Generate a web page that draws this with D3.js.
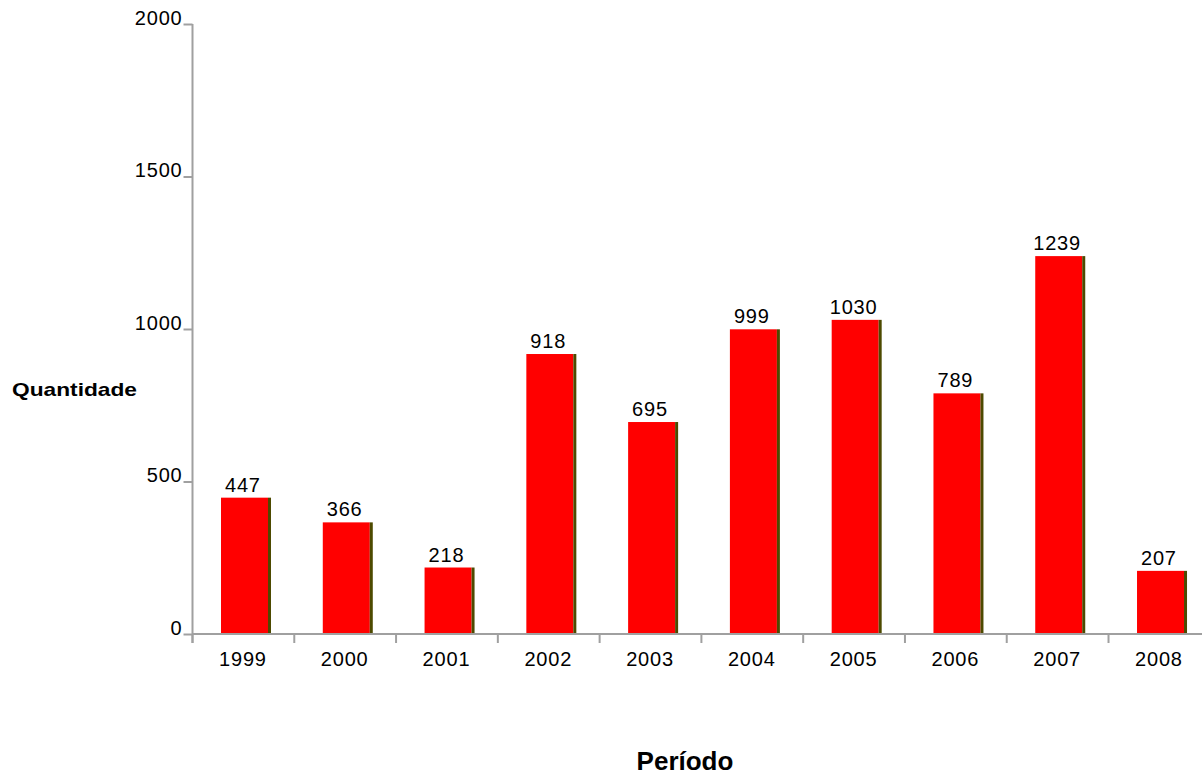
<!DOCTYPE html>
<html>
<head>
<meta charset="utf-8">
<script src="https://cdn.jsdelivr.net/npm/d3@7/dist/d3.min.js"></script>
<style>
  html, body { margin: 0; padding: 0; background: #fff; }
  svg { display: block; }
  text { font-family: "Liberation Sans", Arial, sans-serif; fill: #000; }
</style>
</head>
<body>
<svg id="chart" width="1202" height="778"></svg>
<script>
const years = ["1999","2000","2001","2002","2003","2004","2005","2006","2007","2008"];
const values = [447, 366, 218, 918, 695, 999, 1030, 789, 1239, 207];
const yTicks = [0, 500, 1000, 1500, 2000];
const yLabel = "Quantidade";
const xLabel = "Período";

const svg = d3.select("#chart");
const bandW = 101.78;
const x = d3.scaleBand().domain(years).range([192, 192 + bandW * years.length]).padding(0);
const y = d3.scaleLinear().domain([0, 2000]).range([634, 24]);

const axisColor = "#a0a0a0";

// bars
const barOffset = 29, barW = 50, shadeW = 3;
const g = svg.append("g");
years.forEach((yr, i) => {
  const x0 = x(yr) + barOffset;
  const top = y(values[i]);
  const h = y(0) - top;
  g.append("rect").attr("x", x0).attr("y", top).attr("width", barW - shadeW).attr("height", h).attr("fill", "#ff0000");
  g.append("rect").attr("x", x0 + barW - shadeW).attr("y", top).attr("width", shadeW).attr("height", h).attr("fill", "#4d4a00");
  g.append("text").attr("x", x(yr) + x.bandwidth() / 2).attr("y", top - 6)
    .attr("text-anchor", "middle").attr("font-size", 20).attr("letter-spacing", 0.8)
    .text(values[i]);
});

// y axis
const yAxis = d3.axisLeft(y).tickValues(yTicks).tickSize(9).tickPadding(0).tickFormat(d3.format("d"));
const ya = svg.append("g").attr("transform", "translate(192.5,0)").call(yAxis);
ya.select(".domain").attr("stroke", axisColor).attr("stroke-width", 2).attr("d", "M0,24V643");
ya.selectAll(".tick line").attr("stroke", axisColor).attr("stroke-width", 2);
ya.selectAll(".tick text").attr("font-size", 20).attr("letter-spacing", 0.8)
  .attr("font-family", "Liberation Sans, Arial, sans-serif").attr("fill", "#000")
  .attr("dy", "0").attr("y", 0).attr("x", -10);

// x axis
const xAxis = d3.axisBottom(x).tickSize(0).tickPadding(0);
const xa = svg.append("g").attr("transform", "translate(0,634)").call(xAxis);
xa.select(".domain").attr("stroke", axisColor).attr("stroke-width", 2).attr("d", "M192,0H1202");
xa.selectAll(".tick text").attr("font-size", 20).attr("letter-spacing", 0.8)
  .attr("font-family", "Liberation Sans, Arial, sans-serif").attr("fill", "#000")
  .attr("dy", "0").attr("y", 32);
// boundary ticks
xa.selectAll(".bound").data(years).enter().append("line").attr("class", "bound")
  .attr("x1", d => x(d) + 0.5).attr("x2", d => x(d) + 0.5).attr("y1", 0).attr("y2", 9)
  .attr("stroke", axisColor).attr("stroke-width", 2);

// axis titles
svg.append("text").attr("x", 12).attr("y", 396).attr("font-size", 19).attr("font-weight", "bold")
  .attr("textLength", 125).attr("lengthAdjust", "spacingAndGlyphs").text(yLabel);
svg.append("text").attr("x", 685).attr("y", 770).attr("text-anchor", "middle").attr("font-size", 26)
  .attr("font-weight", "bold").text(xLabel);
</script>
</body>
</html>
